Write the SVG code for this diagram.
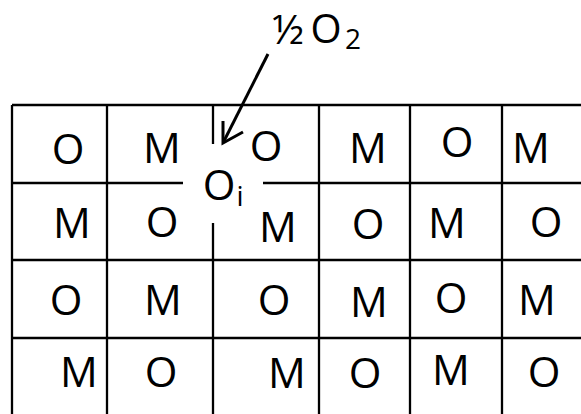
<svg xmlns="http://www.w3.org/2000/svg" width="581" height="414" viewBox="0 0 581 414">
<style>
.g{stroke:#000;stroke-width:2.3;fill:none}
.t{font-family:"Open Sans","Noto Sans",sans-serif;font-size:42px;fill:#000;text-anchor:middle}
.h{font-family:"Open Sans","Noto Sans",sans-serif;font-size:40px;fill:#000;text-anchor:middle}
.f{font-family:"Open Sans","Noto Sans",sans-serif;font-size:41px;fill:#000;text-anchor:middle}
.s{font-family:"Open Sans","Noto Sans",sans-serif;font-size:28px;fill:#000;text-anchor:middle}
.c{stroke:#000;stroke-width:3;fill:none;stroke-linecap:butt}
</style>
<rect width="581" height="414" fill="#fff"/>
<g id="grid" class="g">
<line x1="12" y1="105" x2="581" y2="105"/>
<line x1="12" y1="183" x2="183" y2="183"/>
<line x1="263" y1="183" x2="581" y2="183"/>
<line x1="12" y1="260" x2="581" y2="260"/>
<line x1="12" y1="338" x2="581" y2="338"/>
<line x1="12" y1="105" x2="12" y2="414"/>
<line x1="107" y1="105" x2="107" y2="414"/>
<line x1="213" y1="105" x2="213" y2="144"/>
<line x1="213" y1="223" x2="213" y2="414"/>
<line x1="319" y1="105" x2="319" y2="414"/>
<line x1="410" y1="105" x2="410" y2="414"/>
<line x1="502" y1="105" x2="502" y2="414"/>
</g>
<g id="r1c1"><text class="t" x="68" y="164">O</text></g>
<g id="r1c2"><text class="t" x="162" y="163">M</text></g>
<g id="r1c3"><text class="t" x="266" y="161">O</text></g>
<g id="r1c4"><text class="t" x="368" y="163">M</text></g>
<g id="r1c5"><text class="t" x="457" y="157">O</text></g>
<g id="r1c6"><text class="t" x="531" y="163">M</text></g>
<g id="r2c1"><text class="t" x="72" y="238">M</text></g>
<g id="r2c2"><text class="t" x="162" y="237">O</text></g>
<g id="r2c3"><text class="t" x="278" y="242">M</text></g>
<g id="r2c4"><text class="t" x="368" y="239">O</text></g>
<g id="r2c5"><text class="t" x="447" y="238">M</text></g>
<g id="r2c6"><text class="t" x="546" y="237">O</text></g>
<g id="r3c1"><text class="t" x="66" y="315">O</text></g>
<g id="r3c2"><text class="t" x="163" y="315">M</text></g>
<g id="r3c3"><text class="t" x="274" y="315">O</text></g>
<g id="r3c4"><text class="t" x="369" y="317">M</text></g>
<g id="r3c5"><text class="t" x="451" y="313">O</text></g>
<g id="r3c6"><text class="t" x="537" y="315">M</text></g>
<g id="r4c1"><text class="t" x="79" y="387">M</text></g>
<g id="r4c2"><text class="t" x="161" y="387">O</text></g>
<g id="r4c3"><text class="t" x="287" y="388">M</text></g>
<g id="r4c4"><text class="t" x="365" y="388">O</text></g>
<g id="r4c5"><text class="t" x="451" y="385">M</text></g>
<g id="r4c6"><text class="t" x="544" y="387">O</text></g>
<g id="interstitial"><text class="t" x="219" y="200">O</text><text class="s" x="240" y="206">i</text></g>
<g id="oxygen"><text class="f" x="288" y="44">½</text><text class="h" x="326" y="43">O</text><text class="s" x="353" y="49">2</text></g>
<g id="connectors">
<line class="c" x1="268" y1="54" x2="224" y2="141"/>
<polyline class="c" points="223,121 223,143 243,132"/>
</g>
</svg>
